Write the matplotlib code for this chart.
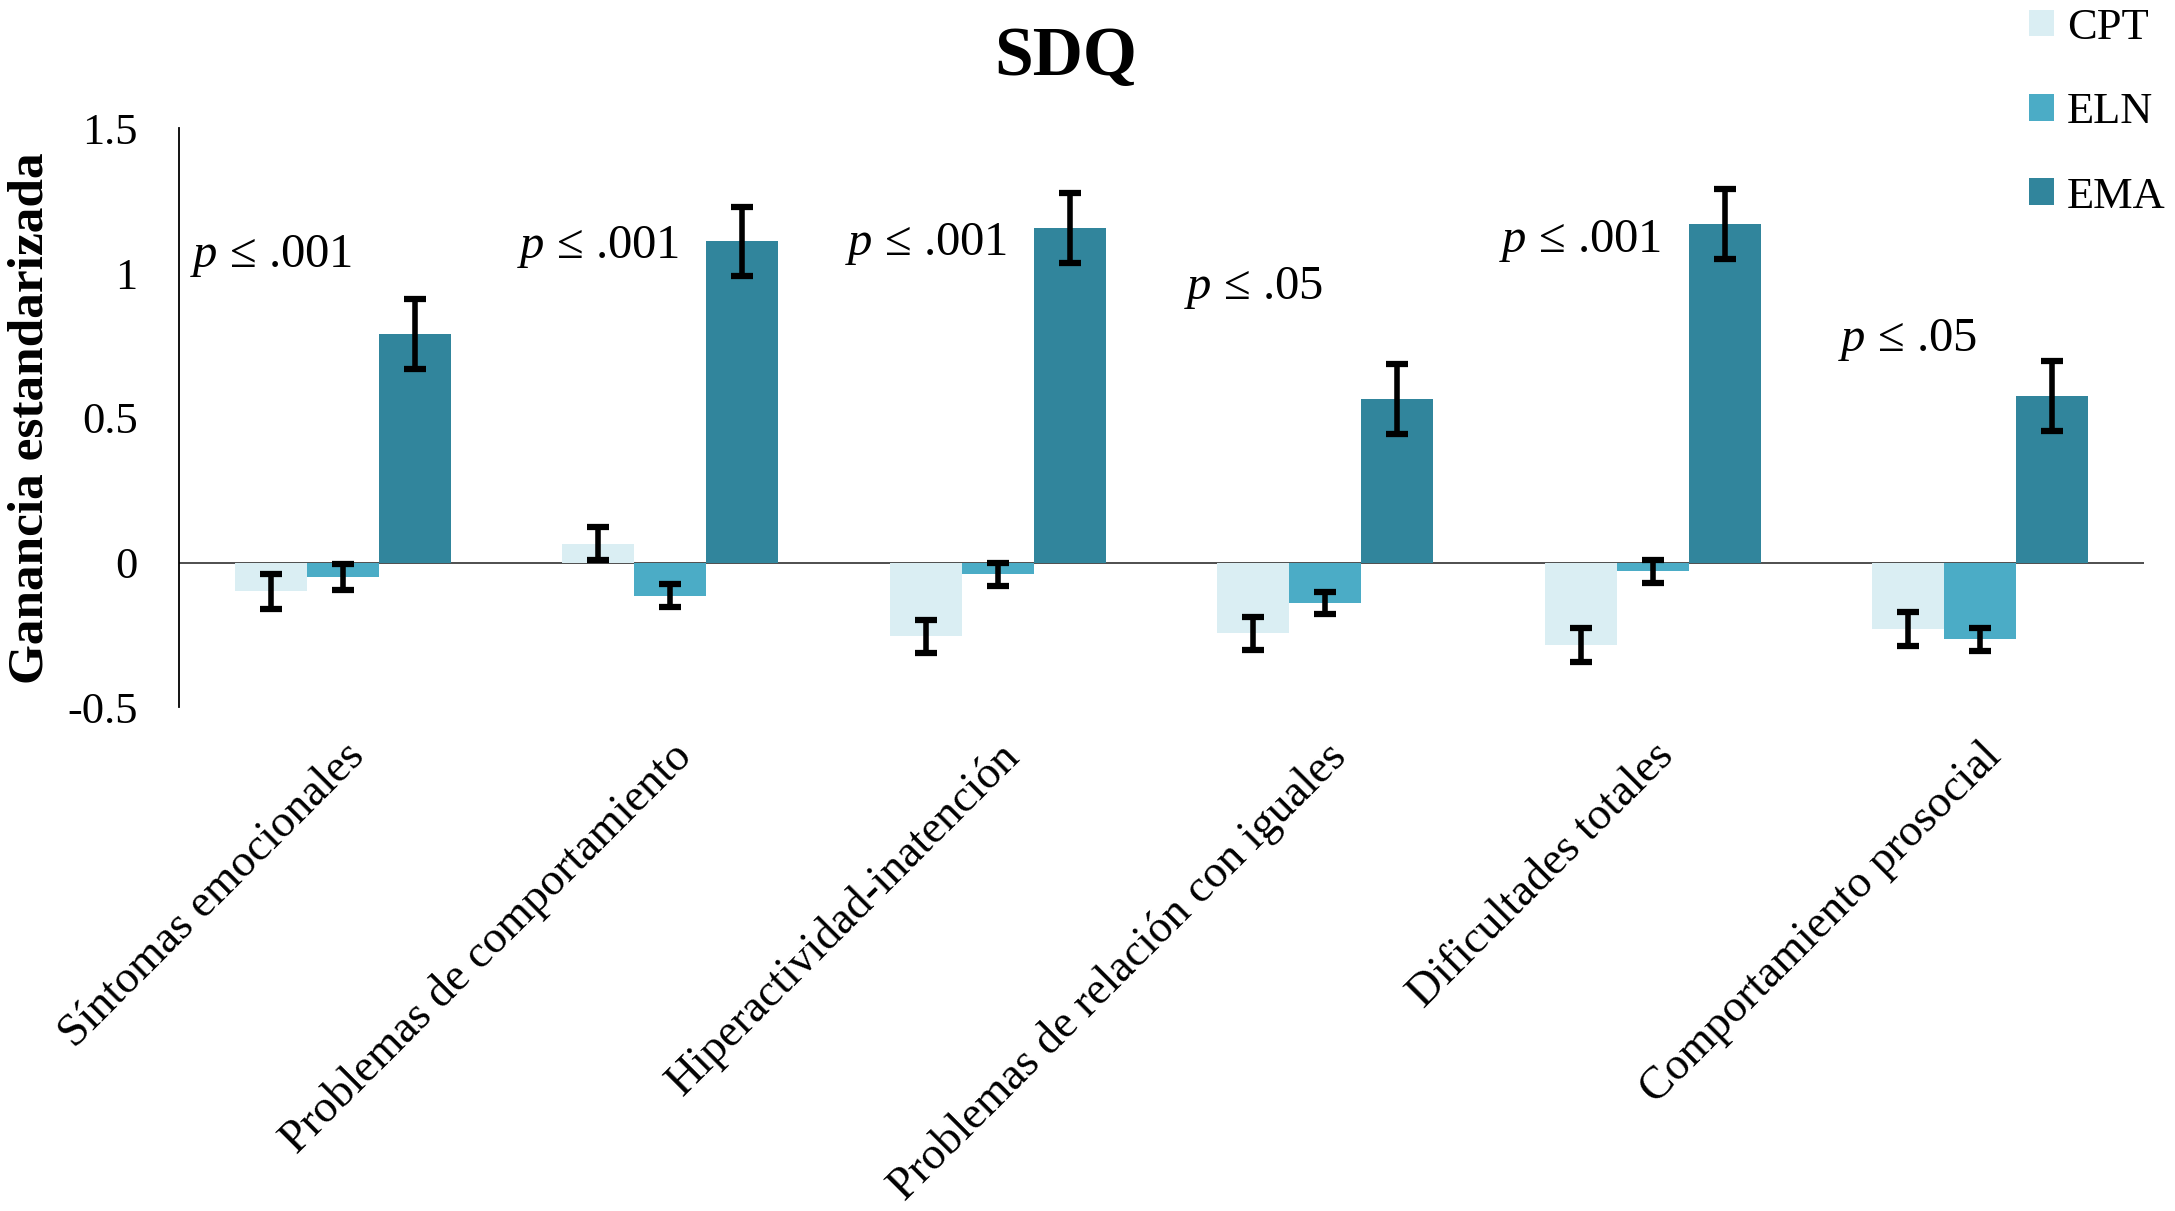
import numpy as np
import matplotlib
matplotlib.use("Agg")
import matplotlib.pyplot as plt

# ==================================================
# DATOS
# ==================================================
categorias = [
    "Síntomas emocionales",
    "Problemas de comportamiento",
    "Hiperactividad-inatención",
    "Problemas de relación con iguales",
    "Dificultades totales",
    "Comportamiento prosocial",
]
grupos = ["CPT", "ELN", "EMA"]

cpt = [-0.10, 0.065, -0.255, -0.245, -0.285, -0.23]
eln = [-0.05, -0.115, -0.04, -0.14, -0.03, -0.265]
ema = [0.79, 1.11, 1.155, 0.565, 1.17, 0.575]

cpt_err = [0.06, 0.057, 0.057, 0.058, 0.058, 0.06]
eln_err = [0.045, 0.04, 0.04, 0.038, 0.04, 0.04]
ema_err = [0.12, 0.12, 0.12, 0.12, 0.12, 0.12]

etiquetas_p = ["≤ .001", "≤ .001", "≤ .001", "≤ .05", "≤ .001", "≤ .05"]
p_y = [1.06, 1.09, 1.10, 0.95, 1.11, 0.77]

colores = ["#DAEEF3", "#4BACC6", "#31859C"]

# ==================================================
# ESTILO
# ==================================================
plt.rcParams["font.family"] = ["Liberation Serif", "DejaVu Serif"]
plt.rcParams["mathtext.fontset"] = "custom"
plt.rcParams["mathtext.it"] = "Liberation Serif:italic"
plt.rcParams["mathtext.rm"] = "Liberation Serif"

fig = plt.figure(figsize=(21.75, 12.11), dpi=100)
ax = fig.add_axes([0.0824, 0.416, 0.9032, 0.478])

x = np.arange(len(categorias))
ancho = 0.22
series = [cpt, eln, ema]
errores = [cpt_err, eln_err, ema_err]

for i, (vals, errs) in enumerate(zip(series, errores)):
    pos = x + (i - 1) * ancho
    ax.bar(pos, vals, width=ancho, color=colores[i], label=grupos[i], zorder=2)
    ax.errorbar(pos, vals, yerr=errs, fmt="none", ecolor="black",
                elinewidth=4, capsize=8, capthick=4.5, zorder=3)

ax.axhline(0, color="#404040", linewidth=1.3, zorder=1)

for xi, lab, yi in zip(x, etiquetas_p, p_y):
    ax.text(xi - 0.22, yi, r"$p$ " + lab, ha="center", va="center", fontsize=35)

ax.set_xlim(-0.5, len(categorias) - 0.5)
ax.set_ylim(-0.5, 1.5)
ax.set_yticks([-0.5, 0, 0.5, 1, 1.5])
ax.set_yticklabels(["-0.5", "0", "0.5", "1", "1.5"])
ax.set_xticks(x)
ax.set_xticklabels(categorias, rotation=45, ha="right", rotation_mode="anchor")
ax.tick_params(axis="y", length=0, pad=30, labelsize=32)
ax.tick_params(axis="x", length=0, pad=20, labelsize=33)

for s in ["top", "right", "bottom"]:
    ax.spines[s].set_visible(False)
ax.spines["left"].set_linewidth(1.3)

ax.set_ylabel("Ganancia estandarizada", fontsize=37, fontweight="bold", labelpad=10)

fig.text(0.49, 0.952, "SDQ", ha="center", va="center", fontsize=50, fontweight="bold")

fig.legend(loc="upper right", bbox_to_anchor=(1.006, 1.012), fontsize=32, frameon=False,
           handlelength=0.55, handleheight=0.55, handletextpad=0.3, labelspacing=1.0,
           borderaxespad=0.1)

plt.savefig("out.png", dpi=100)
